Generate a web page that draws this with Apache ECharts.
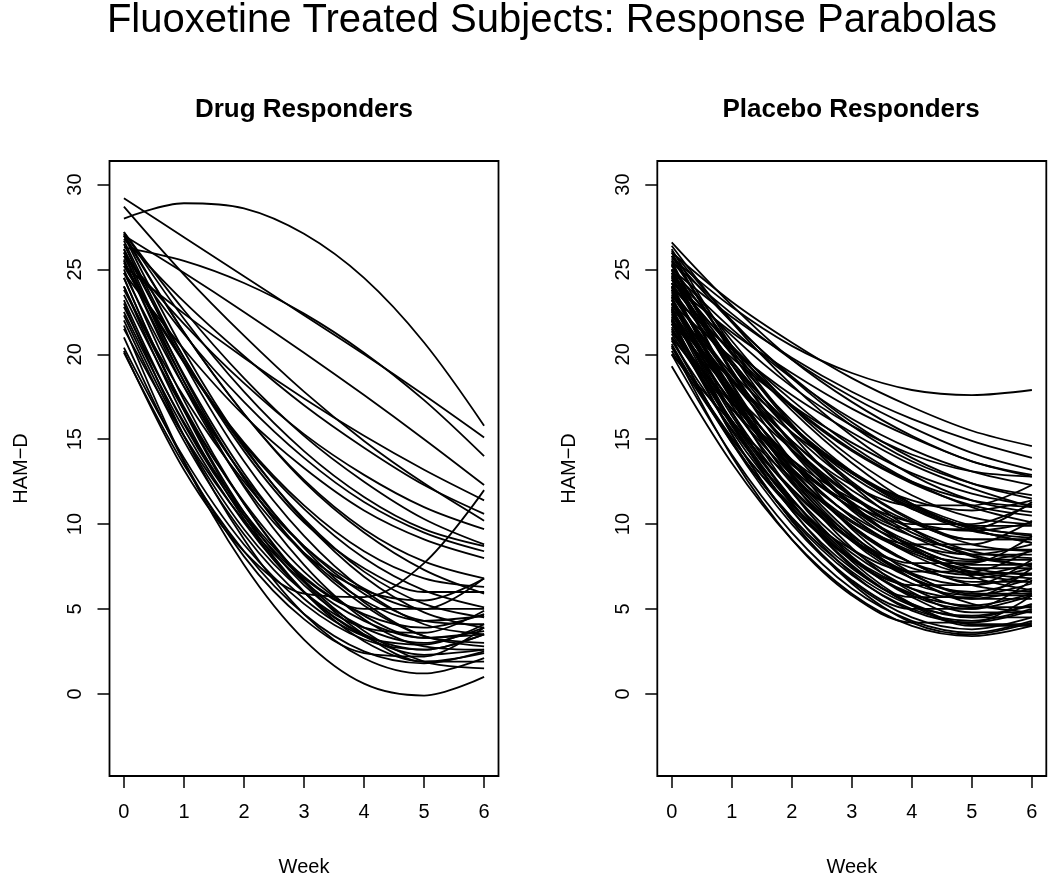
<!DOCTYPE html>
<html>
<head>
<meta charset="utf-8">
<script src="https://cdn.jsdelivr.net/npm/echarts@6/dist/echarts.min.js"></script>
<style>
  html, body { margin: 0; padding: 0; background: #fff; }
  #chart { width: 1050px; height: 882px; }
</style>
</head>
<body>
<div id="chart"></div>
<script>
// weeks on the x axis and tick labels
const weeks = [0, 1, 2, 3, 4, 5, 6];
const weekTicks = [0, 1, 2, 3, 4, 5, 6];
const hamdTicks = [0, 5, 10, 15, 20, 25, 30];

// HAM-D value of each drug responder curve at weeks 0..6
const drugCurves = [
  [28.0, 28.9, 28.6, 27.1, 24.5, 20.7, 15.8],
  [29.2, 26.9, 24.6, 22.3, 20.0, 17.6, 15.1],
  [26.3, 25.5, 24.2, 22.4, 20.1, 17.3, 14.0],
  [27.0, 24.8, 22.5, 20.1, 17.6, 15.0, 12.3],
  [25.2, 22.4, 19.8, 17.4, 15.2, 13.2, 11.4],
  [26.8, 23.1, 19.9, 17.0, 14.5, 12.3, 10.6],
  [27.2, 22.6, 18.6, 15.2, 12.5, 10.3, 8.8],
  [25.8, 21.8, 18.3, 15.3, 12.9, 11.0, 9.7],
  [26.0, 21.2, 17.2, 13.9, 11.3, 9.5, 8.4],
  [24.8, 20.3, 16.4, 13.3, 10.8, 9.1, 8.0],
  [27.1, 21.3, 16.5, 12.6, 9.7, 7.8, 6.8],
  [28.7, 24.7, 21.1, 17.8, 14.9, 12.4, 10.2],
  [21.7, 13.7, 7.6, 3.2, 0.6, -0.1, 1.0],
  [20.2, 13.2, 8.4, 5.9, 5.7, 7.7, 12.0],
  [20.1, 13.5, 8.4, 4.7, 2.5, 1.8, 2.5],
  [23.0, 15.2, 9.1, 4.7, 2.1, 1.2, 2.1],
  [24.5, 16.7, 10.5, 6.0, 3.1, 1.9, 2.4],
  [25.0, 17.3, 11.2, 6.6, 3.5, 1.9, 1.9],
  [22.5, 15.6, 10.1, 6.0, 3.4, 2.3, 2.6],
  [26.0, 18.4, 12.2, 7.6, 4.4, 2.8, 2.6],
  [24.0, 16.3, 10.3, 6.0, 3.5, 2.6, 3.5],
  [22.0, 14.9, 9.4, 5.6, 3.4, 2.9, 4.1],
  [25.5, 18.4, 12.7, 8.2, 5.2, 3.4, 3.0],
  [26.5, 19.5, 13.7, 9.3, 6.1, 4.1, 3.5],
  [23.5, 16.7, 11.3, 7.2, 4.6, 3.3, 3.5],
  [21.5, 15.2, 10.2, 6.6, 4.3, 3.3, 3.7],
  [27.0, 20.2, 14.6, 10.2, 6.9, 4.8, 3.9],
  [24.8, 18.1, 12.8, 8.7, 5.9, 4.3, 4.1],
  [22.8, 16.0, 10.7, 6.9, 4.7, 3.9, 4.7],
  [21.0, 13.7, 8.1, 4.4, 2.4, 2.2, 3.9],
  [26.2, 19.8, 14.5, 10.3, 7.2, 5.3, 4.5],
  [23.8, 17.5, 12.5, 8.7, 6.2, 5.0, 5.0],
  [25.2, 19.5, 14.7, 10.9, 8.0, 6.1, 5.1],
  [24.5, 16.8, 10.7, 6.4, 3.9, 3.0, 3.9],
  [22.3, 15.2, 9.7, 6.0, 3.9, 3.6, 4.9],
  [23.2, 15.9, 10.5, 6.8, 5.0, 5.0, 6.8],
  [25.6, 18.1, 12.3, 8.3, 6.1, 5.5, 6.8],
  [26.7, 19.8, 14.3, 10.1, 7.4, 6.0, 6.0],
  [27.0, 21.3, 16.5, 12.5, 9.5, 7.3, 5.9],
  [24.0, 16.9, 11.2, 6.7, 3.7, 1.9, 1.5],
  [25.8, 18.8, 13.0, 8.6, 5.4, 3.4, 2.8],
  [26.2, 18.7, 12.7, 8.3, 5.5, 4.3, 4.6],
  [20.4, 13.9, 8.8, 5.3, 3.2, 2.6, 3.5],
  [27.2, 22.1, 17.8, 14.3, 11.6, 9.7, 8.7],
  [25.4, 19.6, 14.8, 11.1, 8.4, 6.8, 6.3]
];

// HAM-D value of each placebo responder curve at weeks 0..6
const placeboCurves = [
  [19.3, 13.6, 9.1, 5.9, 4.0, 3.4, 4.0],
  [20.0, 14.1, 9.5, 6.2, 4.3, 3.6, 4.3],
  [21.0, 14.8, 10.0, 6.6, 4.5, 3.8, 4.5],
  [22.5, 15.9, 10.8, 7.1, 4.9, 4.2, 4.9],
  [23.4, 16.6, 11.3, 7.5, 5.3, 4.5, 5.3],
  [24.2, 17.3, 11.9, 8.1, 5.8, 5.0, 5.8],
  [21.8, 15.8, 11.2, 7.9, 5.9, 5.2, 5.9],
  [25.0, 18.2, 12.8, 9.0, 6.8, 6.0, 6.8],
  [20.6, 14.8, 10.4, 7.2, 5.2, 4.6, 5.2],
  [23.0, 17.0, 12.4, 9.1, 7.1, 6.4, 7.1],
  [22.0, 15.3, 10.2, 6.5, 4.2, 3.5, 4.2],
  [24.6, 18.3, 13.3, 9.8, 7.7, 7.0, 7.7],
  [21.4, 16.1, 12.1, 9.1, 7.4, 6.8, 7.4],
  [23.8, 18.0, 13.6, 10.4, 8.4, 7.8, 8.4],
  [20.5, 14.0, 9.1, 5.8, 4.2, 4.2, 5.8],
  [22.8, 16.0, 10.8, 7.4, 5.7, 5.7, 7.4],
  [21.6, 15.5, 11.0, 7.9, 6.4, 6.4, 7.9],
  [24.0, 17.5, 12.6, 9.3, 7.7, 7.7, 9.3],
  [23.2, 17.4, 13.1, 10.2, 8.8, 8.8, 10.2],
  [22.2, 15.3, 10.2, 6.7, 5.0, 5.0, 6.7],
  [25.3, 19.1, 14.4, 11.3, 9.7, 9.7, 11.3],
  [20.2, 15.0, 11.1, 8.5, 7.2, 7.2, 8.5],
  [22.0, 16.0, 11.2, 7.6, 5.2, 4.0, 4.0],
  [24.0, 17.6, 12.5, 8.6, 6.0, 4.8, 4.8],
  [25.5, 18.9, 13.7, 9.7, 7.1, 5.8, 5.8],
  [23.0, 17.6, 13.2, 9.9, 7.7, 6.6, 6.6],
  [21.2, 16.1, 12.0, 9.0, 7.0, 5.9, 5.9],
  [24.8, 19.0, 14.3, 10.8, 8.5, 7.4, 7.4],
  [26.0, 20.1, 15.3, 11.7, 9.3, 8.2, 8.2],
  [22.6, 17.7, 13.8, 10.9, 8.9, 7.9, 7.9],
  [23.6, 18.8, 14.9, 12.0, 10.1, 9.1, 9.1],
  [21.8, 16.1, 11.5, 8.0, 5.7, 4.5, 4.5],
  [24.4, 19.6, 15.7, 12.8, 10.9, 9.9, 9.9],
  [20.8, 15.6, 11.4, 8.3, 6.2, 5.1, 5.1],
  [23.2, 17.6, 13.0, 9.4, 6.8, 5.3, 4.8],
  [25.0, 19.4, 14.8, 11.2, 8.6, 7.1, 6.6],
  [26.2, 20.5, 15.9, 12.3, 9.7, 8.1, 7.6],
  [22.4, 17.7, 13.8, 10.9, 8.7, 7.4, 7.0],
  [24.2, 19.4, 15.4, 12.4, 10.2, 8.8, 8.4],
  [23.8, 19.4, 15.8, 13.0, 11.0, 9.8, 9.4],
  [21.5, 16.8, 12.9, 9.9, 7.7, 6.4, 6.0],
  [25.6, 20.8, 16.9, 13.9, 11.7, 10.4, 10.0],
  [22.9, 18.4, 14.6, 11.7, 9.7, 8.4, 8.0],
  [24.6, 20.4, 17.0, 14.4, 12.5, 11.4, 11.0],
  [23.5, 18.5, 14.4, 11.1, 8.6, 6.9, 6.1],
  [25.2, 20.5, 16.7, 13.6, 11.2, 9.7, 8.9],
  [21.9, 17.8, 14.4, 11.6, 9.5, 8.2, 7.5],
  [24.0, 20.1, 16.9, 14.3, 12.4, 11.1, 10.5],
  [26.4, 21.9, 18.2, 15.2, 12.9, 11.4, 10.7],
  [22.7, 18.9, 15.7, 13.1, 11.2, 9.9, 9.3],
  [24.4, 20.5, 17.3, 14.6, 12.5, 11.0, 10.1],
  [25.8, 21.9, 18.7, 16.0, 13.9, 12.4, 11.5],
  [23.0, 19.8, 17.0, 14.8, 13.0, 11.8, 11.1],
  [26.6, 22.9, 19.7, 17.2, 15.2, 13.7, 12.9],
  [24.9, 21.5, 18.6, 16.2, 14.4, 13.1, 12.3],
  [22.0, 18.5, 15.4, 13.0, 11.1, 9.7, 8.9],
  [25.4, 22.4, 19.7, 17.5, 15.7, 14.2, 13.2],
  [26.0, 23.1, 20.7, 18.6, 16.9, 15.5, 14.6],
  [24.2, 21.3, 18.9, 16.8, 15.1, 13.7, 12.8],
  [23.4, 20.3, 17.6, 15.4, 13.5, 12.1, 11.0],
  [25.0, 22.2, 19.8, 17.8, 16.2, 14.9, 13.9],
  [25.7, 22.8, 20.5, 18.9, 17.9, 17.6, 17.9],
  [20.4, 15.1, 10.9, 8.0, 6.2, 5.6, 6.2],
  [22.3, 17.2, 13.3, 10.5, 8.8, 8.2, 8.8],
  [23.9, 17.8, 12.9, 9.2, 6.8, 5.6, 5.6],
  [21.0, 16.8, 13.5, 11.0, 9.3, 8.5, 8.5],
  [24.8, 20.0, 16.1, 13.1, 10.9, 9.6, 9.2],
  [23.3, 17.9, 13.6, 10.4, 8.2, 7.1, 7.1],
  [20.9, 14.9, 10.3, 7.0, 5.0, 4.3, 5.0],
  [22.7, 16.6, 11.9, 8.5, 6.5, 5.8, 6.5],
  [25.8, 20.3, 15.8, 12.5, 10.3, 9.1, 9.1],
  [21.3, 17.1, 13.8, 11.5, 10.1, 9.6, 10.1],
  [24.5, 19.6, 15.7, 13.0, 11.4, 10.8, 11.4],
  [22.1, 17.2, 13.6, 11.2, 10.0, 10.0, 11.2],
  [23.7, 18.6, 14.9, 12.3, 11.1, 11.1, 12.3],
  [26.1, 22.0, 18.6, 15.8, 13.7, 12.4, 11.7],
  [20.0, 16.0, 12.7, 10.1, 8.3, 7.2, 6.8],
  [22.6, 16.4, 11.5, 7.8, 5.3, 4.1, 4.1],
  [25.3, 19.4, 14.7, 11.1, 8.7, 7.6, 7.6],
  [24.7, 21.1, 18.1, 15.8, 14.1, 13.1, 12.8]
];

const FONT = "'Liberation Sans', Arial, sans-serif";

function makeSeries(curves, idx) {
  return curves.map(function (vals) {
    return {
      type: 'line',
      xAxisIndex: idx,
      yAxisIndex: idx,
      data: weeks.map(function (w, i) { return [w, vals[i]]; }),
      smooth: 0.333,
      showSymbol: false,
      symbol: 'none',
      silent: true,
      lineStyle: { color: '#000', width: 1.8 },
      itemStyle: { color: '#000' }
    };
  });
}

function xAxisOpt(idx) {
  return {
    type: 'value',
    gridIndex: idx,
    min: -0.24,
    max: 6.24,
    name: 'Week',
    nameLocation: 'middle',
    nameGap: 81,
    nameTextStyle: { color: '#000', fontSize: 20, fontFamily: FONT, verticalAlign: 'top' },
    axisLine: { show: false, onZero: false },
    axisTick: { show: true, length: 12, customValues: weekTicks, lineStyle: { color: '#000', width: 1.5 } },
    axisLabel: { customValues: weekTicks, color: '#000', fontSize: 20, fontFamily: FONT, margin: 26 },
    splitLine: { show: false }
  };
}

function yAxisOpt(idx) {
  return {
    type: 'value',
    gridIndex: idx,
    min: -4.84,
    max: 31.39,
    name: 'HAM\u2212D',
    nameLocation: 'middle',
    nameRotate: 90,
    nameGap: 78,
    nameTextStyle: { color: '#000', fontSize: 20, fontFamily: FONT },
    axisLine: { show: false, onZero: false },
    axisTick: { show: true, length: 12, customValues: hamdTicks, lineStyle: { color: '#000', width: 1.5 } },
    axisLabel: { customValues: hamdTicks, rotate: 90, color: '#000', fontSize: 20, fontFamily: FONT, margin: 24 },
    splitLine: { show: false }
  };
}

const chart = echarts.init(document.getElementById('chart'), null, { renderer: 'canvas' });

const option = {
  animation: false,
  backgroundColor: '#fff',
  graphic: [
    { type: 'text', x: 552, y: 21, style: { text: 'Fluoxetine Treated Subjects: Response Parabolas', fill: '#000', font: '40px ' + FONT, textAlign: 'center', textVerticalAlign: 'middle' } },
    { type: 'text', x: 304, y: 110, style: { text: 'Drug Responders', fill: '#000', font: 'bold 26px ' + FONT, textAlign: 'center', textVerticalAlign: 'middle' } },
    { type: 'text', x: 851, y: 110, style: { text: 'Placebo Responders', fill: '#000', font: 'bold 26px ' + FONT, textAlign: 'center', textVerticalAlign: 'middle' } }
  ],
  grid: [
    { left: 109.5, top: 161, width: 389, height: 616, show: true, borderColor: '#000', borderWidth: 1.8, backgroundColor: 'transparent' },
    { left: 657.3, top: 161, width: 389, height: 616, show: true, borderColor: '#000', borderWidth: 1.8, backgroundColor: 'transparent' }
  ],
  xAxis: [xAxisOpt(0), xAxisOpt(1)],
  yAxis: [yAxisOpt(0), yAxisOpt(1)],
  series: makeSeries(drugCurves, 0).concat(makeSeries(placeboCurves, 1))
};

chart.setOption(option);
window.addEventListener('resize', function () { chart.resize(); });
</script>
</body>
</html>
